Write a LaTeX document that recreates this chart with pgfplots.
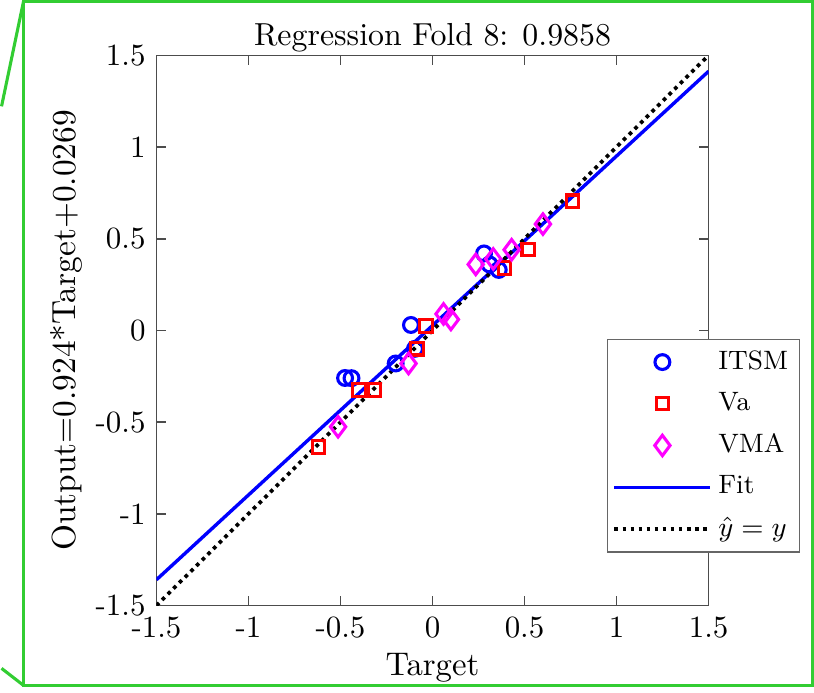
\documentclass[border=0pt]{standalone}
\usepackage{pgfplots}
\pgfplotsset{compat=1.18}
\definecolor{frameg}{RGB}{50,205,50}
\definecolor{mag}{RGB}{255,0,255}
\definecolor{pblue}{RGB}{0,0,255}
\definecolor{pred}{RGB}{255,0,0}
\begin{document}
\begin{tikzpicture}
\begin{axis}[
  name=ax, at={(0,0)}, anchor=south west,
  scale only axis, width=178.6pt, height=178pt,
  xmin=-1.5, xmax=1.5, ymin=-1.5, ymax=1.5,
  xtick={-1.5,-1,-0.5,0,0.5,1,1.5},
  xticklabels={-1.5,-1,-0.5,0,0.5,1,1.5},
  ytick={-1.5,-1,-0.5,0,0.5,1,1.5},
  yticklabels={-1.5,-1,-0.5,0,0.5,1,1.5},
  tick align=inside, major tick length=3pt,
  axis line style={black!70, line width=0.5pt},
  tick style={black!70, line width=0.5pt},
  title={Regression Fold 8: 0.9858},
  title style={yshift=-8.6pt, font=\fontsize{10.3}{12}\selectfont},
  xlabel={Target}, ylabel={Output=0.924*Target+0.0269},
  xlabel style={font=\fontsize{10.6}{12}\selectfont},
  ylabel style={font=\fontsize{10.8}{12}\selectfont},
  xlabel shift=-1.8pt, ylabel shift=-2.5pt,
  clip=true,
  legend style={draw=black!60, line width=0.4pt, at={(0.8156,0.4846)}, anchor=north west,
    legend cell align=left, row sep=2pt, inner xsep=1.7pt, inner ysep=1.5pt,
    font=\fontsize{8.6}{10}\selectfont},
  legend image code/.code={\draw[mark repeat=2,mark phase=2,#1] plot coordinates {(0pt,0pt)(15.5pt,0pt)(31pt,0pt)};},
]
\addplot[only marks, mark=o, mark size=2.4pt, draw=pblue, line width=1pt] coordinates {
(-0.475,-0.259) (-0.44,-0.26) (-0.117,0.03) (-0.2,-0.18) (-0.095,-0.10) (0.28,0.42) (0.36,0.33) (0.31,0.36)
};
\addlegendentry{ITSM}
\addplot[only marks, mark=square, mark size=2pt, draw=pred, line width=1pt] coordinates {
(-0.62,-0.635) (-0.40,-0.325) (-0.315,-0.325) (-0.035,0.025) (-0.084,-0.10) (0.39,0.34) (0.52,0.44) (0.76,0.705)
};
\addlegendentry{Va}
\addplot[only marks, mark=diamond, mark size=3.3pt, draw=mag, line width=1pt] coordinates {
(-0.513,-0.525) (-0.13,-0.18) (0.06,0.09) (0.10,0.06) (0.235,0.36) (0.33,0.39) (0.43,0.44) (0.60,0.58)
};
\addlegendentry{VMA}
\addplot[pblue, line width=1.1pt] coordinates {(-1.5,-1.3591) (1.5,1.4129)};
\addlegendentry{Fit}
\addplot[black, line width=1.2pt, dash pattern=on 1.2pt off 1.4pt] coordinates {(-1.5,-1.5) (1.5,1.5)};
\addlegendentry{$\hat{y}=y$}
\end{axis}
\draw[frameg, line width=1pt] (-43.0pt,-25.8pt) rectangle (212.2pt,195.4pt);
\draw[frameg, line width=1pt] (-43.0pt,195.4pt) -- (-50.1pt,161.5pt);
\draw[frameg, line width=1pt] (-43.0pt,-25.8pt) -- (-50.1pt,-20.3pt);
\end{tikzpicture}
\end{document}
